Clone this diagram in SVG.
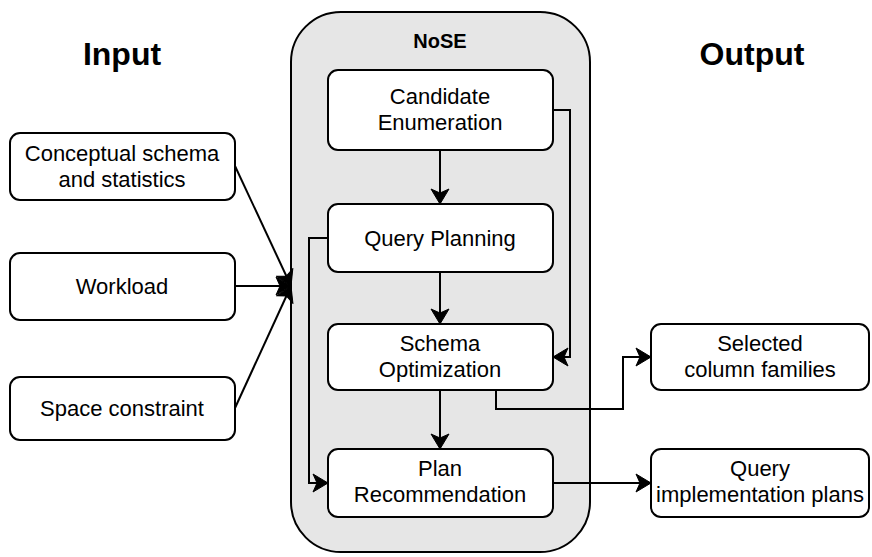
<svg xmlns="http://www.w3.org/2000/svg" width="872" height="557" viewBox="0 0 872 557">
  <style>
    .box { fill: #ffffff; stroke: #000000; stroke-width: 2; }
    .label { font-family: "Liberation Sans", Arial, sans-serif; font-size: 22px; fill: #000000; text-anchor: middle; }
    .title { font-family: "Liberation Sans", Arial, sans-serif; font-weight: bold; font-size: 32px; fill: #000000; text-anchor: middle; }
    .edge { fill: none; stroke: #000000; stroke-width: 2; marker-end: url(#arrow); }
  </style>
  <defs>
    <marker id="arrow" markerUnits="userSpaceOnUse" markerWidth="18" markerHeight="20" viewBox="0 0 18 20" refX="16" refY="10" orient="auto">
      <path d="M1,1 L16,10 L1,19 L5,10 Z" fill="#000000" stroke="#000000" stroke-width="1"/>
    </marker>
  </defs>

  <rect width="872" height="557" fill="#ffffff"/>

  <text class="title" x="122" y="65">Input</text>
  <text class="title" x="752" y="65">Output</text>

  <g id="nose">
    <rect x="291" y="12" width="299" height="540" rx="50" ry="50" fill="#e6e6e6" stroke="#000000" stroke-width="2"/>
    <text x="440" y="48" font-family="'Liberation Sans', Arial, sans-serif" font-weight="bold" font-size="20" text-anchor="middle">NoSE</text>
  </g>

  <g id="conceptual">
    <rect class="box" x="10" y="133" width="225" height="67" rx="10"/>
    <text class="label" x="122" y="161">Conceptual schema</text>
    <text class="label" x="122" y="187">and statistics</text>
  </g>
  <g id="workload">
    <rect class="box" x="10" y="253" width="225" height="67" rx="10"/>
    <text class="label" x="122" y="294">Workload</text>
  </g>
  <g id="space">
    <rect class="box" x="10" y="377" width="225" height="63" rx="10"/>
    <text class="label" x="122" y="416">Space constraint</text>
  </g>

  <g id="candidate">
    <rect class="box" x="328" y="70" width="225" height="80" rx="10"/>
    <text class="label" x="440" y="104">Candidate</text>
    <text class="label" x="440" y="130">Enumeration</text>
  </g>
  <g id="planning">
    <rect class="box" x="328" y="204" width="225" height="68" rx="10"/>
    <text class="label" x="440" y="246">Query Planning</text>
  </g>
  <g id="optimization">
    <rect class="box" x="328" y="324" width="225" height="66" rx="10"/>
    <text class="label" x="440" y="351">Schema</text>
    <text class="label" x="440" y="377">Optimization</text>
  </g>
  <g id="recommendation">
    <rect class="box" x="328" y="449" width="225" height="68" rx="10"/>
    <text class="label" x="440" y="476">Plan</text>
    <text class="label" x="440" y="502">Recommendation</text>
  </g>

  <g id="families">
    <rect class="box" x="651" y="324" width="218" height="66" rx="10"/>
    <text class="label" x="760" y="351">Selected</text>
    <text class="label" x="760" y="377">column families</text>
  </g>
  <g id="plans">
    <rect class="box" x="651" y="449" width="218" height="68" rx="10"/>
    <text class="label" x="760" y="476">Query</text>
    <text class="label" x="760" y="502">implementation plans</text>
  </g>

  <g id="connectors">
    <path class="edge" d="M235,166 L291,286"/>
    <path class="edge" d="M235,286 L291,286"/>
    <path class="edge" d="M235,408 L291,286"/>
    <path class="edge" d="M440,150 L440,204"/>
    <path class="edge" d="M440,272 L440,324"/>
    <path class="edge" d="M440,390 L440,449"/>
    <path class="edge" d="M553,110 L570,110 L570,357 L553,357"/>
    <path class="edge" d="M328,238 L309,238 L309,483 L328,483"/>
    <path class="edge" d="M496,390 L496,409 L623,409 L623,357 L651,357"/>
    <path class="edge" d="M553,483 L651,483"/>
  </g>
</svg>
